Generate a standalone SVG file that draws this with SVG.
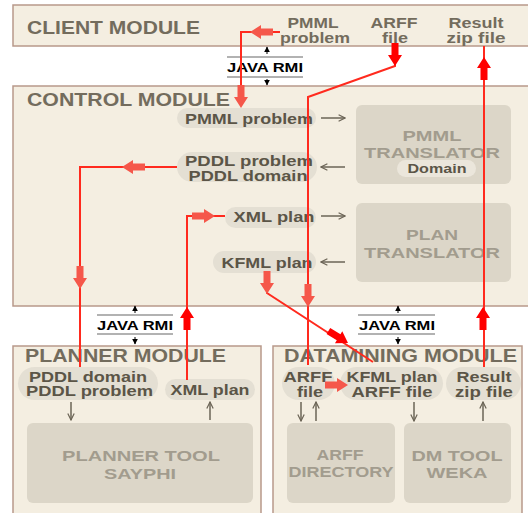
<svg xmlns="http://www.w3.org/2000/svg" xmlns:xlink="http://www.w3.org/1999/xlink" width="528" height="513" viewBox="0 0 528 513">
<style>
.mod{fill:#f4eee1;stroke:#b8998a;stroke-width:1.5}
.pill{fill:#e4dfd3}
.box{fill:#dcd6c8}
text{font-family:"Liberation Sans",Arial,sans-serif;font-weight:bold}
.title{font-size:17.5px;fill:#736c5d}
.ct{font-size:14.5px;fill:#736c5d;text-anchor:middle}
.pt{font-size:14.5px;fill:#5b5547;text-anchor:middle}
.bt{font-size:15.5px;fill:#a29c8e;text-anchor:middle}
.rmi{font-size:13px;fill:#000;text-anchor:middle}
.red{stroke:#ff2a1e;stroke-width:2;fill:none}
.sa{stroke:#6b6456;stroke-width:1.5;fill:none;marker-end:url(#chev)}
.ba{stroke:#000;stroke-width:1;fill:none;marker-end:url(#tri)}
.rl{stroke:#999;stroke-width:1.5}
.co{fill:#f5574a}
.rd{fill:#ff0000}
</style>
<defs>
<marker id="chev" viewBox="0 0 10 10" refX="9" refY="5" markerWidth="8" markerHeight="8" markerUnits="userSpaceOnUse" orient="auto">
<path d="M1,1 L9,5 L1,9" fill="none" stroke="#6b6456" stroke-width="1.5"/>
</marker>
<marker id="tri" viewBox="0 0 10 10" refX="9" refY="5" markerWidth="6" markerHeight="6" markerUnits="userSpaceOnUse" orient="auto">
<path d="M0,0 L10,5 L0,10 Z" fill="#000"/>
</marker>
<path id="fa" d="M0,0 L-11,-7 L-11,-3.5 L-23,-3.5 L-23,3.5 L-11,3.5 L-11,7 Z"/>
</defs>

<g id="client">
<rect class="mod" x="13" y="5" width="520" height="41"/>
<text class="title" x="27" y="33.5" textLength="173" lengthAdjust="spacingAndGlyphs">CLIENT MODULE</text>
<text class="ct"><tspan x="313" y="28" textLength="51" lengthAdjust="spacingAndGlyphs">PMML</tspan><tspan x="315" y="43" textLength="70" lengthAdjust="spacingAndGlyphs">problem</tspan></text>
<text class="ct"><tspan x="394" y="28" textLength="47" lengthAdjust="spacingAndGlyphs">ARFF</tspan><tspan x="395" y="43" textLength="26" lengthAdjust="spacingAndGlyphs">file</tspan></text>
<text class="ct"><tspan x="476" y="28" textLength="55" lengthAdjust="spacingAndGlyphs">Result</tspan><tspan x="476" y="43" textLength="59" lengthAdjust="spacingAndGlyphs">zip file</tspan></text>
</g>

<g id="control">
<rect class="mod" x="13" y="86" width="520" height="220"/>
<text class="title" x="27" y="105.5" textLength="203" lengthAdjust="spacingAndGlyphs">CONTROL MODULE</text>
<g id="c-pmml"><rect class="pill" x="177" y="108" width="139" height="20" rx="10"/><text class="pt" x="249" y="123.5" textLength="128" lengthAdjust="spacingAndGlyphs">PMML problem</text></g>
<g id="c-pddl"><rect class="pill" x="177" y="152" width="140" height="30" rx="15"/><text class="pt"><tspan x="249" y="166" textLength="128" lengthAdjust="spacingAndGlyphs">PDDL problem</tspan><tspan x="248" y="180.5" textLength="119" lengthAdjust="spacingAndGlyphs">PDDL domain</tspan></text></g>
<g id="c-xml"><rect class="pill" x="225" y="207" width="91" height="21" rx="10.5"/><text class="pt" x="274" y="221.5" textLength="81" lengthAdjust="spacingAndGlyphs">XML plan</text></g>
<g id="c-kfml"><rect class="pill" x="213" y="251" width="103" height="22" rx="11"/><text class="pt" x="267" y="267.5" textLength="91" lengthAdjust="spacingAndGlyphs">KFML plan</text></g>
<g id="pmml-translator"><rect class="box" x="356" y="105" width="155" height="79" rx="6"/><text class="bt"><tspan x="432" y="140.5" textLength="59" lengthAdjust="spacingAndGlyphs">PMML</tspan><tspan x="432" y="157.5" textLength="136" lengthAdjust="spacingAndGlyphs">TRANSLATOR</tspan></text>
<rect x="397" y="160" width="79" height="17" rx="8.5" fill="#ebe6db"/><text class="pt" x="437" y="173" style="font-size:13.5px" textLength="59" lengthAdjust="spacingAndGlyphs">Domain</text></g>
<g id="plan-translator"><rect class="box" x="356" y="203" width="155" height="79" rx="6"/><text class="bt"><tspan x="432" y="240" textLength="52" lengthAdjust="spacingAndGlyphs">PLAN</tspan><tspan x="432" y="257.5" textLength="136" lengthAdjust="spacingAndGlyphs">TRANSLATOR</tspan></text></g>
<line class="sa" x1="321" y1="118" x2="345" y2="118"/>
<line class="sa" x1="345" y1="167" x2="321" y2="167"/>
<line class="sa" x1="321" y1="216" x2="345" y2="216"/>
<line class="sa" x1="345" y1="262" x2="321" y2="262"/>
</g>

<g id="planner">
<rect class="mod" x="13" y="346" width="248" height="170"/>
<text class="title" x="25" y="361.5" textLength="201" lengthAdjust="spacingAndGlyphs">PLANNER MODULE</text>
<g id="p-pddl"><rect class="pill" x="18" y="367" width="140" height="33" rx="16.5"/><text class="pt"><tspan x="88" y="381.5" textLength="118" lengthAdjust="spacingAndGlyphs">PDDL domain</tspan><tspan x="89.5" y="396" textLength="127" lengthAdjust="spacingAndGlyphs">PDDL problem</tspan></text></g>
<g id="p-xml"><rect class="pill" x="165" y="379" width="90" height="21" rx="10.5"/><text class="pt" x="210" y="394.5" textLength="79" lengthAdjust="spacingAndGlyphs">XML plan</text></g>
<g id="planner-tool"><rect class="box" x="27" y="423" width="226" height="80" rx="6"/><text class="bt"><tspan x="141" y="461" textLength="158" lengthAdjust="spacingAndGlyphs">PLANNER TOOL</tspan><tspan x="140" y="478.5" textLength="72" lengthAdjust="spacingAndGlyphs">SAYPHI</tspan></text></g>
<line class="sa" x1="71" y1="402" x2="71" y2="420"/>
<line class="sa" x1="210" y1="420" x2="210" y2="402"/>
</g>

<g id="datamining">
<rect class="mod" x="273" y="346" width="249" height="170"/>
<text class="title" x="284" y="361.5" textLength="233" lengthAdjust="spacingAndGlyphs">DATAMINING MODULE</text>
<g id="d-arff"><rect class="pill" x="282" y="367" width="53" height="33" rx="16.5"/><text class="pt"><tspan x="308" y="382" textLength="49" lengthAdjust="spacingAndGlyphs">ARFF</tspan><tspan x="310" y="396.5" textLength="26" lengthAdjust="spacingAndGlyphs">file</tspan></text></g>
<g id="d-kfml"><rect class="pill" x="340" y="367" width="103" height="33" rx="16.5"/><text class="pt"><tspan x="392" y="382" textLength="91" lengthAdjust="spacingAndGlyphs">KFML plan</tspan><tspan x="392" y="396.5" textLength="81" lengthAdjust="spacingAndGlyphs">ARFF file</tspan></text></g>
<g id="d-result"><rect class="pill" x="446" y="367" width="75" height="33" rx="16.5"/><text class="pt"><tspan x="484" y="382" textLength="55" lengthAdjust="spacingAndGlyphs">Result</tspan><tspan x="484" y="396.5" textLength="58" lengthAdjust="spacingAndGlyphs">zip file</tspan></text></g>
<g id="arff-dir"><rect class="box" x="287" y="423" width="108" height="80" rx="6"/><text class="bt" style="font-size:14.5px"><tspan x="340" y="460" textLength="47" lengthAdjust="spacingAndGlyphs">ARFF</tspan><tspan x="341" y="476.5" textLength="105" lengthAdjust="spacingAndGlyphs">DIRECTORY</tspan></text></g>
<g id="dm-tool"><rect class="box" x="404" y="423" width="107" height="80" rx="6"/><text class="bt" style="font-size:15px"><tspan x="457" y="461" textLength="91" lengthAdjust="spacingAndGlyphs">DM TOOL</tspan><tspan x="457" y="478" textLength="61" lengthAdjust="spacingAndGlyphs">WEKA</tspan></text></g>
<line class="sa" x1="301" y1="402" x2="301" y2="421"/>
<line class="sa" x1="316" y1="421" x2="316" y2="402"/>
<line class="sa" x1="414" y1="402" x2="414" y2="421"/>
<line class="sa" x1="483" y1="421" x2="483" y2="402"/>
</g>

<g id="rmi">
<line class="rl" x1="227" y1="57" x2="303" y2="57"/><line class="rl" x1="227" y1="77" x2="303" y2="77"/>
<text class="rmi" x="265" y="71.5" textLength="76" lengthAdjust="spacingAndGlyphs">JAVA RMI</text>
<line class="ba" x1="267" y1="54" x2="267" y2="47"/><line class="ba" x1="267" y1="79" x2="267" y2="85"/>
<line class="rl" x1="97" y1="315" x2="173" y2="315"/><line class="rl" x1="97" y1="334" x2="173" y2="334"/>
<text class="rmi" x="135" y="329.5" textLength="76" lengthAdjust="spacingAndGlyphs">JAVA RMI</text>
<line class="ba" x1="135" y1="313" x2="135" y2="306"/><line class="ba" x1="135" y1="337" x2="135" y2="344"/>
<line class="rl" x1="358" y1="315" x2="435" y2="315"/><line class="rl" x1="358" y1="334" x2="435" y2="334"/>
<text class="rmi" x="397" y="329.5" textLength="76" lengthAdjust="spacingAndGlyphs">JAVA RMI</text>
<line class="ba" x1="398" y1="313" x2="398" y2="306"/><line class="ba" x1="398" y1="337" x2="398" y2="344"/>
</g>

<g id="connectors">
<path class="red" d="M280,32 H241 V100"/>
<path class="red" d="M395,60 V66 L308,97 V365"/>
<path class="red" d="M484,46 V367"/>
<path class="red" d="M177,167 H80 V367"/>
<path class="red" d="M187,380 V216 H225"/>
<path class="red" d="M267,273 V293 L373,362"/>
<use xlink:href="#fa" class="co" transform="translate(250,32) rotate(180)"/>
<use xlink:href="#fa" class="co" transform="translate(241,108) rotate(90)"/>
<use xlink:href="#fa" class="rd" transform="translate(395,66) rotate(90)"/>
<use xlink:href="#fa" class="co" transform="translate(308,307) rotate(90)"/>
<use xlink:href="#fa" class="rd" transform="translate(484,57) rotate(-90)"/>
<use xlink:href="#fa" class="rd" transform="translate(483,307) rotate(-90)"/>
<use xlink:href="#fa" class="co" transform="translate(122,167) rotate(180)"/>
<use xlink:href="#fa" class="co" transform="translate(80,289) rotate(90)"/>
<use xlink:href="#fa" class="rd" transform="translate(187,307) rotate(-90)"/>
<use xlink:href="#fa" class="co" transform="translate(215,216)"/>
<use xlink:href="#fa" class="co" transform="translate(267,294) rotate(90)"/>
<use xlink:href="#fa" class="rd" transform="translate(348,343) rotate(31.5)"/>
<use xlink:href="#fa" class="co" transform="translate(348,385)"/>
</g>
</svg>
